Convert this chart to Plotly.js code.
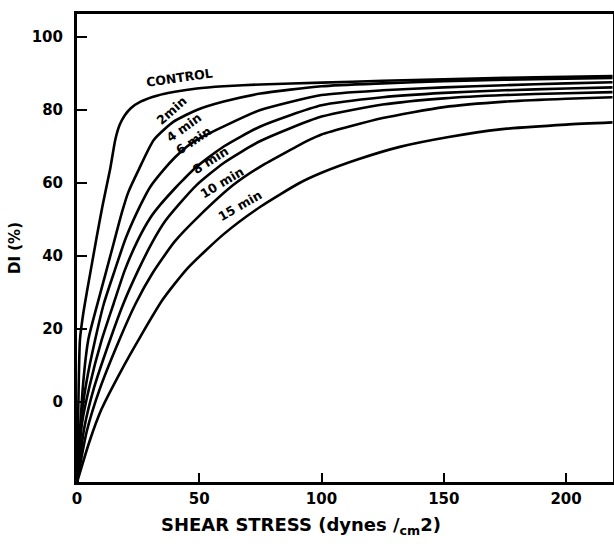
<!DOCTYPE html>
<html>
<head>
<meta charset="utf-8">
<script src="https://cdn.plot.ly/plotly-3.0.1.min.js"></script>
<style>html,body{margin:0;padding:0;background:#fff;}#chart{width:614px;height:546px;}</style>
</head>
<body>
<div id="chart"></div>
<script>
// Shear stress (dynes/cm2) and deformability index DI (%)
const stressControl = [0, 0.5, 1.2, 2.5, 4, 5.6, 8, 10.5, 13.6, 15.7, 17.5, 19.5, 22, 26, 33, 40, 49, 60, 75, 100, 125, 150, 175, 200, 219];
const diControl     = [-22, -3, 17, 24, 30, 36, 45, 54, 64, 72, 76, 78.5, 80.5, 82.3, 84, 85, 85.9, 86.5, 87, 87.5, 88, 88.4, 88.8, 89.1, 89.3];

const stress2 = [0, 2.5, 4.6, 8, 12.1, 15, 18.4, 21, 25.2, 31.4, 39.5, 49, 60, 75, 100, 125, 150, 175, 200, 219];
const di2     = [-22, 5, 17, 26, 36.2, 43.5, 52, 57.5, 63.6, 71.8, 76.8, 80, 82.3, 84.5, 86.5, 87.3, 87.9, 88.3, 88.6, 88.8];

const stress4 = [0, 2, 4, 7.4, 11, 15.5, 20, 26, 30, 35.4, 40, 45, 49, 60, 75, 100, 125, 150, 175, 200, 219];
const di4     = [-22, -3, 6, 17, 27, 36.2, 45, 54, 59, 63.6, 67, 70, 71.8, 75.5, 80, 84.1, 85.4, 86.2, 86.8, 87.3, 87.6];

const stress6 = [0, 2, 5, 10.1, 15, 19.6, 25, 30, 34, 40, 43.6, 49, 60, 75, 100, 125, 150, 175, 200, 219];
const di6     = [-22, -6, 4, 17, 27, 36.2, 44.5, 50.5, 54, 58.5, 61, 64.5, 70, 75.5, 81.3, 83.5, 84.7, 85.4, 85.9, 86.2];

const stress8 = [0, 3, 7, 13.5, 19, 25.1, 31, 36, 41.5, 49, 60, 75, 100, 125, 150, 175, 200, 219];
const di8     = [-22, -7, 4, 17, 27, 36.2, 44, 49.5, 54, 59.5, 65.5, 71.5, 78.2, 81.5, 83.2, 84.1, 84.6, 84.9];

const stress10 = [0, 4, 9, 17.3, 24, 30.8, 40, 50, 64, 75, 95, 100, 125, 150, 175, 200, 219];
const di10     = [-22, -8, 3, 17, 27, 35.2, 44, 51, 59.5, 64.5, 71.8, 73.3, 77.8, 80.8, 82.3, 83.1, 83.5];

const stress15 = [0, 5, 10, 18, 26, 35, 45, 60, 75, 91, 100, 115, 132, 152, 173, 200, 219];
const di15     = [-22, -11, -2, 8.5, 18, 28, 36.5, 46, 53.5, 60, 62.8, 66.5, 69.9, 72.6, 74.7, 76, 76.6];

const curveLabels = ["CONTROL", "2min", "4 min", "6 min", "8 min", "10 min", "15 min"];
const xTicks = [0, 50, 100, 150, 200];
const yTicks = [0, 20, 40, 60, 80, 100];
const xTitle = 'SHEAR STRESS (dynes /<sub>cm</sub>2)';
const yTitle = 'DI (%)';

const series = [
  [stressControl, diControl], [stress2, di2], [stress4, di4], [stress6, di6],
  [stress8, di8], [stress10, di10], [stress15, di15]
];

const traces = series.map((s, i) => ({
  x: s[0], y: s[1], type: 'scatter', mode: 'lines', name: curveLabels[i],
  line: {color: '#000', width: 2.6, shape: 'spline', smoothing: 0.6},
  hoverinfo: 'skip', showlegend: false
}));

// label positions (data coords) and angles
const labelX = [42.1, 38.6, 43.6, 47.6, 54.4, 59.3, 66.7];
const labelY = [88.8, 79.9, 75.3, 71.6, 66.1, 60.1, 53.8];
const labelAngle = [-8, -42, -36, -34, -32, -31, -30];

const FAM = 'DejaVu Sans, Liberation Sans, Arial, sans-serif';

const annotations = curveLabels.map((t, i) => ({
  x: labelX[i], y: labelY[i], xref: 'x', yref: 'y', text: t, showarrow: false,
  textangle: labelAngle[i],
  font: {family: FAM, size: 12.5, color: '#000', weight: 700}
}));
annotations.push({
  x: 0.418, y: -0.094, xref: 'paper', yref: 'paper', xanchor: 'center', yanchor: 'middle',
  text: xTitle, showarrow: false,
  font: {family: FAM, size: 18, color: '#000', weight: 700}
});

const fontTick = {family: FAM, size: 15, color: '#000', weight: 700};

const layout = {
  width: 614, height: 546,
  margin: {l: 77, r: 1, t: 14, b: 64, pad: 0},
  paper_bgcolor: '#fff', plot_bgcolor: '#fff',
  showlegend: false,
  xaxis: {
    range: [0, 219.2], tickvals: xTicks, ticktext: xTicks.map(String),
    ticks: 'inside', ticklen: 9, tickwidth: 2, tickcolor: '#000',
    showline: true, linewidth: 3, linecolor: '#000', mirror: true,
    showgrid: false, zeroline: false, tickfont: fontTick, ticklabelstandoff: 1
  },
  yaxis: {
    range: [-21.9, 106.3], tickvals: yTicks, ticktext: yTicks.map(String),
    ticks: 'inside', ticklen: 10, tickwidth: 2, tickcolor: '#000',
    showline: true, linewidth: 3, linecolor: '#000', mirror: true,
    showgrid: false, zeroline: false, tickfont: fontTick, ticklabelstandoff: 8,
    title: {text: yTitle, font: {family: FAM, size: 15, color: '#000', weight: 700}, standoff: 8}
  },
  annotations: annotations
};

Plotly.newPlot('chart', traces, layout, {displayModeBar: false, staticPlot: true});
</script>
</body>
</html>
